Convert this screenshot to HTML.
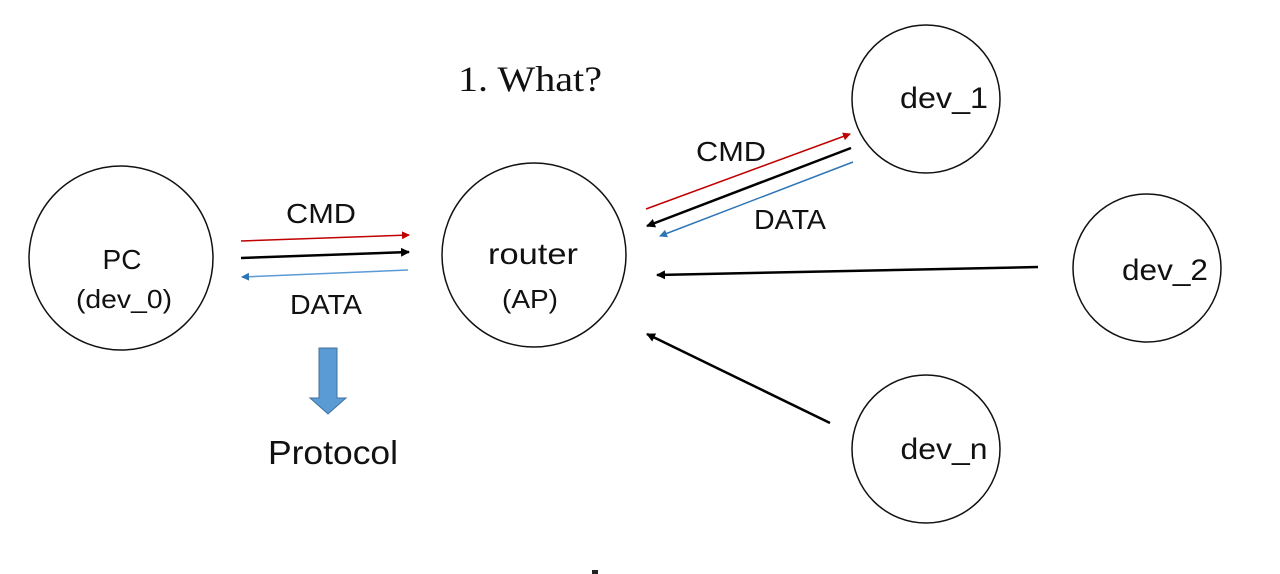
<!DOCTYPE html>
<html><head><meta charset="utf-8"><style>
html,body{margin:0;padding:0;background:#fff;width:1280px;height:574px;overflow:hidden}
text{font-family:"Liberation Sans",sans-serif;fill:#111}
</style></head><body>
<svg width="1280" height="574" viewBox="0 0 1280 574" xmlns="http://www.w3.org/2000/svg">
<defs>
<marker id="r" markerWidth="8" markerHeight="8" refX="7" refY="4" orient="auto" markerUnits="userSpaceOnUse"><path d="M0,0 L8,4 L0,8z" fill="#c00000"/></marker>
<marker id="k" markerWidth="9" markerHeight="9" refX="8" refY="4.5" orient="auto" markerUnits="userSpaceOnUse"><path d="M0,0 L9,4.5 L0,9z" fill="#000"/></marker>
<marker id="b" markerWidth="8" markerHeight="8" refX="7" refY="4" orient="auto" markerUnits="userSpaceOnUse"><path d="M0,0 L8,4 L0,8z" fill="#2e75b6"/></marker>
</defs>
<g fill="none" stroke="#111" stroke-width="1.5">
<circle cx="121" cy="258" r="92"/>
<circle cx="534" cy="255" r="92"/>
<circle cx="926" cy="99" r="74"/>
<circle cx="1147" cy="268" r="74"/>
<circle cx="926" cy="449" r="74"/>
</g>
<text x="122" y="269" font-size="28" text-anchor="middle">PC</text>
<text x="124" y="308" font-size="26" text-anchor="middle" textLength="96" lengthAdjust="spacingAndGlyphs">(dev_0)</text>
<text x="533" y="264" font-size="30" text-anchor="middle" textLength="90" lengthAdjust="spacingAndGlyphs">router</text>
<text x="530" y="308" font-size="26" text-anchor="middle" textLength="56" lengthAdjust="spacingAndGlyphs">(AP)</text>
<text x="944" y="108" font-size="30" text-anchor="middle" textLength="88" lengthAdjust="spacingAndGlyphs">dev_1</text>
<text x="1165" y="280" font-size="30" text-anchor="middle" textLength="86" lengthAdjust="spacingAndGlyphs">dev_2</text>
<text x="944" y="459" font-size="30" text-anchor="middle" textLength="87" lengthAdjust="spacingAndGlyphs">dev_n</text>
<text x="530" y="91" font-size="36" text-anchor="middle" textLength="144" lengthAdjust="spacingAndGlyphs" style="font-family:'Liberation Serif',serif">1. What?</text>
<text x="321" y="223" font-size="28" text-anchor="middle" textLength="70" lengthAdjust="spacingAndGlyphs">CMD</text>
<text x="326" y="314" font-size="28" text-anchor="middle" textLength="72" lengthAdjust="spacingAndGlyphs">DATA</text>
<text x="731" y="161" font-size="28" text-anchor="middle" textLength="70" lengthAdjust="spacingAndGlyphs">CMD</text>
<text x="790" y="229" font-size="28" text-anchor="middle" textLength="72" lengthAdjust="spacingAndGlyphs">DATA</text>
<text x="333" y="464" font-size="33" text-anchor="middle" textLength="130" lengthAdjust="spacingAndGlyphs">Protocol</text>
<line x1="241" y1="241" x2="409" y2="235" stroke="#c00000" stroke-width="1.5" marker-end="url(#r)"/>
<line x1="241" y1="258" x2="409" y2="252" stroke="#000" stroke-width="2.5" marker-end="url(#k)"/>
<line x1="408" y1="270" x2="242" y2="277" stroke="#5b9bd5" stroke-width="1.5" marker-end="url(#b)"/>
<line x1="646" y1="209" x2="850" y2="134" stroke="#c00000" stroke-width="1.5" marker-end="url(#r)"/>
<line x1="851" y1="148" x2="647" y2="226" stroke="#000" stroke-width="2.5" marker-end="url(#k)"/>
<line x1="853" y1="162" x2="660" y2="236" stroke="#2e75b6" stroke-width="1.5" marker-end="url(#b)"/>
<line x1="1038" y1="267" x2="657" y2="275" stroke="#000" stroke-width="2.5" marker-end="url(#k)"/>
<line x1="830" y1="423" x2="647" y2="334" stroke="#000" stroke-width="2.5" marker-end="url(#k)"/>
<path d="M319,348 L337,348 L337,398 L346,398 L328,414 L310,398 L319,398 Z" fill="#5b9bd5" stroke="#41719c" stroke-width="1"/>
<rect x="592" y="570" width="6" height="4" fill="#222"/>
</svg>
</body></html>
